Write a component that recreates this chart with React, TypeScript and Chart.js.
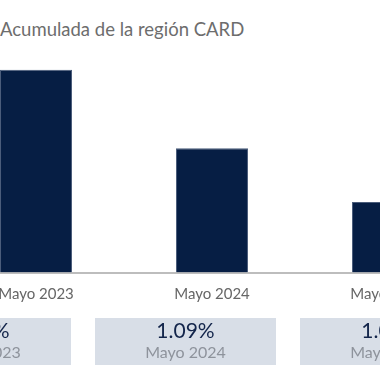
import React, { useEffect, useRef } from "react";
import { Chart, registerables } from "chart.js";

Chart.register(...registerables);

const categories = ["Mayo 2023", "Mayo 2024", "Mayo 2025"];
const barValues = [1.78, 1.09, 0.62];
const boxValues = ["1.63%", "1.09%", "1.02%"];
const boxLabels = ["Mayo 2023", "Mayo 2024", "Mayo 2025"];
const titleText = "Acumulada de la región CARD";

const FONT = "Lato, 'Noto Sans', sans-serif";
const OFFSET_X = 100; // canvas shifted left by this amount

const boxPlugin = {
  id: "boxes",
  afterDraw(chart: any) {
    const ctx = chart.ctx;
    ctx.save();
    const boxW = 181;
    const step = 205;
    const start = -110 + OFFSET_X;
    const top = 318;
    const h = 47;
    boxValues.forEach((v, i) => {
      const x = start + i * step;
      ctx.fillStyle = "#d8dee7";
      ctx.fillRect(x, top, boxW, h);
      const cx = x + boxW / 2;
      ctx.textAlign = "center";
      ctx.textBaseline = "middle";
      ctx.fillStyle = "#12244a";
      ctx.font = `21px ${FONT}`;
      ctx.fillText(v, cx, top + 13);
      ctx.fillStyle = "#8e939c";
      ctx.font = `16px ${FONT}`;
      ctx.fillText(boxLabels[i], cx, top + 35);
    });
    ctx.restore();
  },
};

export default function App() {
  const ref = useRef<HTMLCanvasElement | null>(null);
  useEffect(() => {
    document.body.style.margin = "0";
    const chart = new Chart(ref.current!, {
      type: "bar",
      data: {
        labels: categories,
        datasets: [
          {
            data: barValues,
            backgroundColor: "#061e44",
            borderColor: "#4a5c7a",
            borderWidth: 1,
            barPercentage: 1,
            categoryPercentage: 0.409,
          },
        ],
      },
      options: {
        animation: false,
        responsive: false,
        maintainAspectRatio: false,
        layout: { padding: { top: 44.6, bottom: 63.4, left: 48, right: 64 } },
        plugins: { legend: { display: false }, tooltip: { enabled: false }, title: { display: false } },
        scales: {
          y: { display: false, min: 0, max: 2 },
          x: {
            grid: { display: false, drawTicks: false },
            border: { display: true, color: "#bdbdbd", width: 2 },
            ticks: { color: "#666666", font: { size: 15, family: FONT }, padding: 13, maxRotation: 0 },
          },
        },
      },
      plugins: [boxPlugin],
    });
    return () => chart.destroy();
  }, []);
  return (
    <div style={{ position: "relative", width: 380, height: 380, overflow: "hidden", background: "#fff" }}>
      <div
        style={{
          position: "absolute",
          left: 0,
          top: 19,
          fontFamily: FONT,
          fontSize: 18.5,
          color: "#6d6d6d",
          whiteSpace: "nowrap",
          lineHeight: "20px",
        }}
      >
        {titleText}
      </div>
      <canvas
        ref={ref}
        width={640}
        height={380}
        style={{ position: "absolute", left: -OFFSET_X, top: 0, width: 640, height: 380 }}
      />
    </div>
  );
}
